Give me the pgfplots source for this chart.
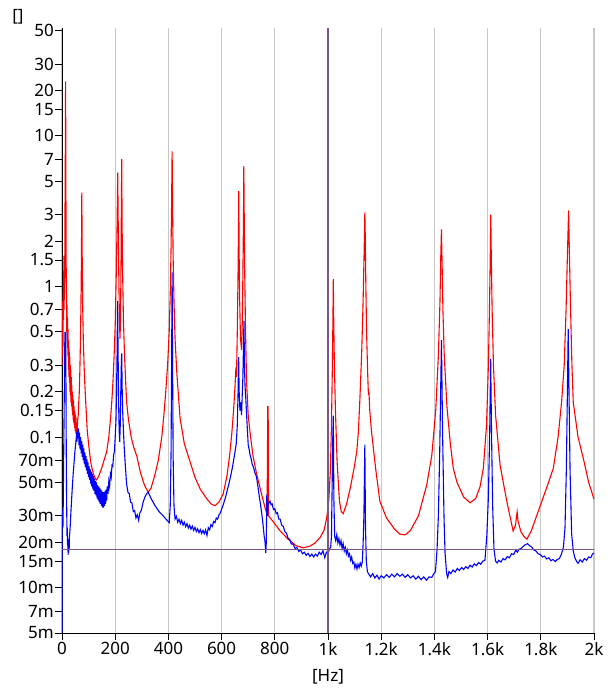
\documentclass[border=0pt]{standalone}
\usepackage{pgfplots}
\pgfplotsset{compat=1.18}
\usepackage{fontspec}
\setmainfont{Noto Sans}
\definecolor{cursor}{RGB}{125,85,135}
\definecolor{gridgray}{RGB}{200,200,200}
\begin{document}
\begin{tikzpicture}
\useasboundingbox (-62pt,-58pt) rectangle (548pt,633pt);
\begin{axis}[
  at={(0pt,0pt)}, anchor=south west,
  scale only axis, width=532pt, height=605pt,
  xmin=0, xmax=2000, ymin=0.005, ymax=52,
  ymode=log,
  axis x line*=bottom, axis y line*=left,
  axis line style={-, black, line width=0.9pt},
  tick align=outside, major tick length=7pt,
  tick style={black, line width=0.8pt},
  minor tick num=0,
  xtick={0,200,400,600,800,1000,1200,1400,1600,1800,2000},
  xticklabels={\mbox{0},\mbox{200},\mbox{400},\mbox{600},\mbox{800},\mbox{1k},\mbox{1.2k},\mbox{1.4k},\mbox{1.6k},\mbox{1.8k},\mbox{2k}},
  ytick={0.005,0.007,0.01,0.015,0.02,0.03,0.05,0.07,0.1,0.15,0.2,0.3,0.5,0.7,1,1.5,2,3,5,7,10,15,20,30,50},
  yticklabels={\mbox{5m},\mbox{7m},\mbox{10m},\mbox{15m},\mbox{20m},\mbox{30m},\mbox{50m},\mbox{70m},\mbox{0.1},\mbox{0.15},\mbox{0.2},\mbox{0.3},\mbox{0.5},\mbox{0.7},\mbox{1},\mbox{1.5},\mbox{2},\mbox{3},\mbox{5},\mbox{7},\mbox{10},\mbox{15},\mbox{20},\mbox{30},\mbox{50}},
  tick label style={font=\fontsize{17}{20}\selectfont},
  yticklabel style={inner sep=1pt},
  xticklabel style={inner sep=2pt},
  xmajorgrids=true, ymajorgrids=false,
  major grid style={gridgray, line width=1.2pt},
  clip=true,
  xlabel={\mbox{[Hz]}},
  xlabel style={font=\fontsize{17}{20}\selectfont, inner sep=0pt, at={(rel axis cs:0.5,0)}, anchor=center, yshift=-44pt},
]
\addplot[red, line width=1.1pt] coordinates {
(0,0.3)(1,0.55)(2,0.35)(3,0.8)(4,0.4)(5,1.0)(6,0.6)(7,1.6)(8,0.7)(9,1.2)(10,0.9)(11,2.5)(12.5,8)(13.5,23)(14.5,6)(15.5,1.5)(17,0.8)(18,0.5)(19,0.75)(20,0.42)(21,0.62)(22,0.35)(23,0.52)(24,0.28)(25,0.44)(26,0.25)(27,0.38)(28,0.23)(29,0.34)(30,0.2)(31,0.3)(32,0.19)(33,0.28)(34,0.17)(35,0.25)(36,0.16)(37,0.22)(38,0.15)(39,0.2)(40,0.14)(41,0.19)(42,0.13)(43,0.175)(44,0.125)(45,0.16)(46,0.12)(47,0.15)(48,0.115)(49,0.145)(50,0.11)(51,0.14)(52,0.105)(53,0.135)(54,0.105)(55,0.125)(57,0.11)(59,0.13)(61,0.14)(63,0.17)(65,0.2)(67,0.27)(69,0.4)(71,0.7)(73,1.5)(74.5,4.2)(76,1.5)(78,0.7)(80,0.45)(83,0.3)(86,0.22)(90,0.16)(95,0.11)(100,0.09)(105,0.075)(110,0.065)(118,0.057)(125,0.053)(130,0.052)(138,0.055)(149,0.062)(158,0.07)(168,0.08)(176,0.1)(182,0.13)(187,0.17)(192,0.24)(196,0.35)(200,0.55)(204,1.2)(207,2.5)(209.5,5.7)(212,2)(214,1)(216,0.6)(218,0.45)(220,0.6)(222,1.5)(223,3)(224.5,7)(226,2.5)(228,1.2)(231,0.6)(235,0.35)(240,0.22)(243,0.17)(250,0.13)(260,0.1)(270,0.085)(281,0.075)(295,0.058)(310,0.048)(324,0.043)(335,0.046)(348,0.055)(362,0.07)(375,0.1)(383,0.14)(390,0.2)(397,0.3)(403,0.5)(407,0.9)(410,1.8)(412,3.5)(414,7.9)(416,3)(418,1.5)(421,0.8)(425,0.45)(432,0.26)(444,0.133)(460,0.09)(481,0.069)(500,0.054)(520,0.045)(544,0.039)(560,0.036)(575,0.035)(590,0.037)(606,0.042)(620,0.055)(630,0.075)(638,0.104)(645,0.15)(650,0.21)(654,0.29)(656,0.25)(659,0.5)(662,1.3)(663.5,2.5)(664.5,4.3)(666,1.6)(668,0.8)(671,0.45)(675,0.38)(678,0.6)(680,1.2)(682,2.5)(683.5,6.3)(685,3)(687,1.2)(690,0.5)(694,0.23)(700,0.14)(707,0.107)(718,0.075)(732,0.0565)(750,0.042)(765,0.033)(771,0.031)(773.5,0.16)(775,0.16)(776.5,0.03)(790,0.028)(820,0.0238)(850,0.021)(880,0.019)(906,0.0184)(930,0.0188)(950,0.0197)(970,0.0215)(985,0.024)(995,0.029)(1003,0.038)(1009,0.06)(1013,0.12)(1016.5,0.3)(1018.5,0.6)(1020,1.12)(1021.5,0.6)(1024,0.3)(1028,0.15)(1034,0.07)(1043,0.0375)(1050,0.032)(1057,0.031)(1070,0.036)(1085,0.047)(1100,0.065)(1108,0.08)(1114,0.107)(1120,0.18)(1127,0.38)(1132,0.8)(1135.5,1.6)(1137,2.2)(1138.5,3.1)(1140,2.2)(1142,1.1)(1145,0.5)(1149,0.27)(1152,0.19)(1154,0.2)(1157,0.15)(1164,0.107)(1180,0.06)(1195,0.0375)(1220,0.029)(1250,0.0245)(1270,0.0227)(1290,0.0224)(1310,0.024)(1340,0.03)(1371,0.048)(1390,0.075)(1405,0.15)(1415,0.35)(1421,0.8)(1424,1.6)(1426.5,2.39)(1429,1.4)(1432,0.7)(1437,0.35)(1447,0.16)(1460,0.09)(1471,0.062)(1485,0.05)(1510,0.04)(1534,0.0366)(1555,0.039)(1572,0.047)(1584,0.062)(1596,0.12)(1603,0.3)(1607,0.7)(1610,1.6)(1612,3.0)(1614,1.5)(1617,0.7)(1622,0.3)(1630,0.14)(1647,0.065)(1672,0.0375)(1696,0.0238)(1705,0.026)(1709,0.03)(1711,0.0318)(1714,0.028)(1725,0.0235)(1740,0.0215)(1748,0.021)(1765,0.024)(1790,0.032)(1820,0.045)(1847,0.062)(1865,0.1)(1878,0.17)(1888,0.3)(1895,0.7)(1900,1.6)(1904.5,3.2)(1908,1.5)(1912,0.7)(1917,0.3)(1922,0.17)(1940,0.1)(1960,0.072)(1980,0.05)(2000,0.0387)
};
\addplot[blue, line width=1.1pt] coordinates {
(0,0.005)(0.5,0.03)(1.5,0.028)(2.5,0.033)(3.5,0.025)(5,0.04)(6.5,0.08)(8,0.15)(9.5,0.3)(11,0.5)(12,0.25)(13,0.4)(14,0.5)(15,0.2)(16,0.08)(17,0.045)(18,0.03)(19,0.022)(20,0.025)(21,0.019)(22,0.02)(23,0.0165)(24,0.019)(25,0.017)(26,0.021)(27,0.018)(28,0.022)(30,0.024)(32,0.028)(34,0.033)(36,0.038)(38,0.044)(40,0.05)(42,0.057)(44,0.063)(46,0.07)(48,0.078)(50,0.085)(52,0.092)(54,0.1)(56,0.093)(58,0.112)(60,0.098)(62,0.114)(64,0.088)(66,0.107)(68,0.083)(70,0.1)(72,0.078)(74,0.094)(76,0.074)(78,0.089)(80,0.07)(82,0.084)(84,0.066)(86,0.079)(88,0.063)(90,0.075)(92,0.06)(94,0.071)(96,0.057)(98,0.068)(100,0.054)(102,0.064)(104,0.052)(106,0.061)(108,0.049)(110,0.059)(112,0.047)(114,0.057)(116,0.045)(118,0.055)(120,0.044)(122,0.053)(124,0.042)(126,0.051)(128,0.041)(130,0.05)(132,0.039)(134,0.048)(136,0.038)(138,0.047)(140,0.037)(142,0.046)(144,0.036)(146,0.045)(148,0.035)(150,0.044)(152,0.034)(154,0.043)(156,0.034)(158,0.043)(160,0.035)(162,0.044)(164,0.036)(166,0.045)(168,0.038)(170,0.047)(173,0.042)(176,0.051)(179,0.047)(182,0.057)(185,0.054)(188,0.065)(191,0.064)(194,0.076)(197,0.08)(200,0.1)(203,0.13)(205,0.2)(207,0.35)(209,0.8)(211,0.35)(213,0.16)(215,0.11)(217,0.093)(219,0.12)(221,0.2)(223,0.3)(224.5,0.36)(226,0.22)(228,0.15)(231,0.11)(234,0.085)(238,0.065)(243,0.0485)(248,0.043)(253,0.042)(258,0.037)(263,0.0365)(268,0.032)(273,0.0325)(278,0.029)(283,0.0305)(288,0.028)(293,0.0315)(298,0.0325)(305,0.037)(312,0.04)(318,0.042)(324,0.043)(335,0.039)(350,0.035)(365,0.032)(380,0.03)(395,0.028)(403,0.027)(407,0.035)(410,0.08)(412,0.3)(414,1.24)(416,0.25)(418,0.07)(421,0.035)(425,0.0286)(430,0.0298)(435,0.0272)(440,0.0285)(445,0.0266)(450,0.028)(455,0.026)(460,0.0272)(465,0.0254)(470,0.0266)(475,0.0249)(480,0.026)(485,0.0245)(490,0.0256)(495,0.024)(500,0.0251)(505,0.0236)(510,0.0246)(515,0.0232)(520,0.0243)(525,0.0229)(530,0.024)(535,0.0228)(540,0.0242)(545,0.0222)(550,0.025)(555,0.0242)(560,0.0262)(565,0.0255)(570,0.0275)(575,0.027)(580,0.029)(585,0.0285)(590,0.0305)(594,0.031)(605,0.035)(615,0.04)(625,0.047)(632,0.053)(640,0.062)(648,0.075)(655,0.09)(659,0.12)(662,0.2)(664,0.34)(666,0.2)(669,0.15)(672,0.17)(675,0.14)(678,0.2)(680,0.25)(682,0.38)(684,0.59)(686,0.3)(688,0.22)(691,0.18)(695,0.13)(700,0.089)(704,0.082)(707,0.076)(711,0.072)(715,0.066)(720,0.063)(725,0.058)(729,0.056)(733,0.052)(738,0.045)(742,0.04)(746,0.036)(750,0.032)(754,0.028)(757,0.025)(760,0.022)(763,0.0204)(766,0.017)(768,0.02)(770,0.0417)(772,0.03)(775,0.036)(782,0.0375)(786,0.0355)(790,0.036)(795,0.033)(800,0.0335)(805,0.031)(810,0.0315)(815,0.0285)(820,0.0285)(826,0.026)(832,0.0255)(838,0.0235)(844,0.023)(850,0.0212)(856,0.021)(862,0.0195)(869,0.0195)(876,0.0182)(883,0.0185)(890,0.0174)(897,0.0178)(904,0.0168)(911,0.0172)(918,0.0164)(925,0.0169)(932,0.0161)(939,0.0167)(946,0.016)(953,0.0167)(960,0.0162)(967,0.0172)(974,0.0166)(981,0.0176)(988,0.0158)(994,0.0172)(1000,0.0168)(1006,0.0182)(1010,0.0185)(1013,0.022)(1015,0.04)(1018,0.1)(1020,0.139)(1022,0.04)(1025,0.022)(1029,0.0205)(1033,0.0225)(1037,0.0198)(1041,0.0212)(1045,0.0192)(1049,0.0205)(1053,0.0182)(1057,0.0196)(1061,0.0175)(1065,0.0185)(1069,0.0168)(1073,0.0178)(1077,0.0162)(1081,0.0168)(1085,0.0152)(1089,0.016)(1093,0.0145)(1097,0.0148)(1101,0.0135)(1105,0.0143)(1109,0.0133)(1113,0.0143)(1117,0.0136)(1121,0.0146)(1125,0.0139)(1129,0.0148)(1132,0.0195)(1135,0.03)(1138.5,0.089)(1141,0.025)(1144,0.015)(1148,0.0128)(1152,0.0124)(1160,0.0118)(1168,0.0124)(1176,0.0116)(1184,0.0121)(1192,0.0114)(1200,0.012)(1210,0.0116)(1220,0.0122)(1230,0.0117)(1240,0.0123)(1250,0.0118)(1260,0.0124)(1270,0.0119)(1280,0.0123)(1290,0.0117)(1300,0.0122)(1310,0.0116)(1320,0.012)(1330,0.0114)(1340,0.0119)(1350,0.0113)(1360,0.0118)(1370,0.0112)(1380,0.0118)(1390,0.0117)(1398,0.0124)(1404,0.0128)(1410,0.018)(1415,0.03)(1420,0.08)(1426.5,0.44)(1431,0.1)(1436,0.03)(1440,0.017)(1446,0.0124)(1450,0.0117)(1455,0.0128)(1462,0.0124)(1470,0.0131)(1478,0.0127)(1486,0.0134)(1494,0.013)(1502,0.0136)(1510,0.0132)(1518,0.0138)(1526,0.0134)(1534,0.0141)(1542,0.0137)(1550,0.0144)(1558,0.014)(1566,0.0147)(1574,0.0143)(1582,0.015)(1590,0.0152)(1597,0.022)(1603,0.04)(1608,0.11)(1611.5,0.33)(1615,0.1)(1619,0.035)(1624,0.018)(1630,0.015)(1636,0.0146)(1642,0.0152)(1650,0.0148)(1658,0.0156)(1666,0.0153)(1674,0.0161)(1682,0.0158)(1690,0.0168)(1698,0.0166)(1706,0.0178)(1712,0.0172)(1718,0.018)(1726,0.0182)(1734,0.0188)(1742,0.0193)(1750,0.0196)(1758,0.019)(1766,0.0186)(1774,0.0178)(1782,0.0175)(1790,0.0168)(1798,0.0166)(1806,0.016)(1814,0.0162)(1822,0.0155)(1830,0.0158)(1838,0.0151)(1846,0.0154)(1854,0.0149)(1862,0.0154)(1870,0.0156)(1878,0.0168)(1885,0.0185)(1891,0.025)(1896,0.06)(1900,0.2)(1903,0.52)(1906,0.2)(1910,0.06)(1916,0.0227)(1922,0.0175)(1928,0.0158)(1934,0.015)(1940,0.0145)(1948,0.0153)(1956,0.0148)(1964,0.0156)(1972,0.0152)(1980,0.016)(1988,0.0158)(1994,0.0167)(2000,0.017)
};
\addplot[cursor, line width=1.3pt] coordinates {(1000,0.005)(1000,52)};
\addplot[cursor, line width=1.3pt] coordinates {(0,0.018)(2000,0.018)};
\end{axis}
\node[font=\fontsize{17}{20}\selectfont, inner sep=0pt] at (-44pt,616pt) {[]};
\end{tikzpicture}
\end{document}
